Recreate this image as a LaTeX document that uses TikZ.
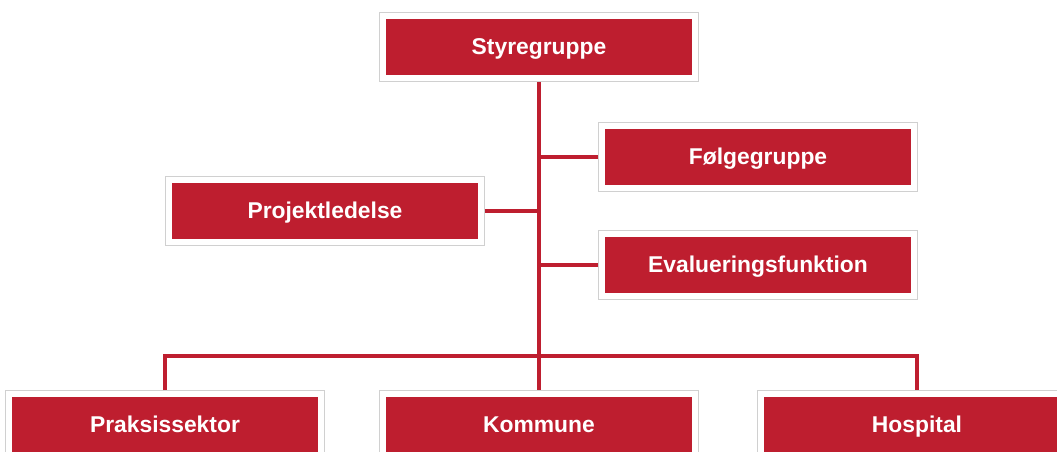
\documentclass[tikz,border=0pt]{standalone}
\usepackage{fontspec}
\setmainfont{Liberation Sans}
\usetikzlibrary{fit}
\definecolor{orgred}{HTML}{BE1E2F}
\definecolor{framegray}{HTML}{D0D0D0}
\tikzset{
  unit/.style={rectangle, fill=orgred, text=white, font=\fontsize{13}{15}\selectfont\bfseries,
    minimum width=6.12cm, minimum height=1.12cm, inner sep=0pt, text height=0.98em, text depth=0.08em},
  frame/.style={rectangle, draw=framegray, line width=0.6pt, inner sep=0.12cm},
  link/.style={draw=orgred, line width=2.3pt}
}
\begin{document}
\begin{tikzpicture}[x=0.02cm, y=-0.02cm]
    \useasboundingbox (0,0) rectangle (1057,452);
    % units
    \node[unit] (sty) at (539,47){Styregruppe};
    \node[unit] (folg) at (758,157){Følgegruppe};
    \node[unit] (proj) at (325,211){Projektledelse};
    \node[unit] (eval) at (758,265){Evalueringsfunktion};
    \node[unit] (pra) at (165,425){Praksissektor};
    \node[unit] (kom) at (539,425){Kommune};
    \node[unit] (hos) at (917,425){Hospital};
    % frames
    \foreach \n in {sty,folg,proj,eval,pra,kom,hos}
      \node[frame, fit=(\n)] (\n f) {};
    % links
    \draw[link] (styf.south) -- (komf.north);
    \draw[link] (projf.east) -- (projf.east -| styf.south);
    \draw[link] (folgf.west) -- (folgf.west -| styf.south);
    \draw[link] (evalf.west) -- (evalf.west -| styf.south);
    \coordinate (bus) at (539,356);
    \draw[link] (praf.north) |- (bus) -| (hosf.north);
\end{tikzpicture}
\end{document}
